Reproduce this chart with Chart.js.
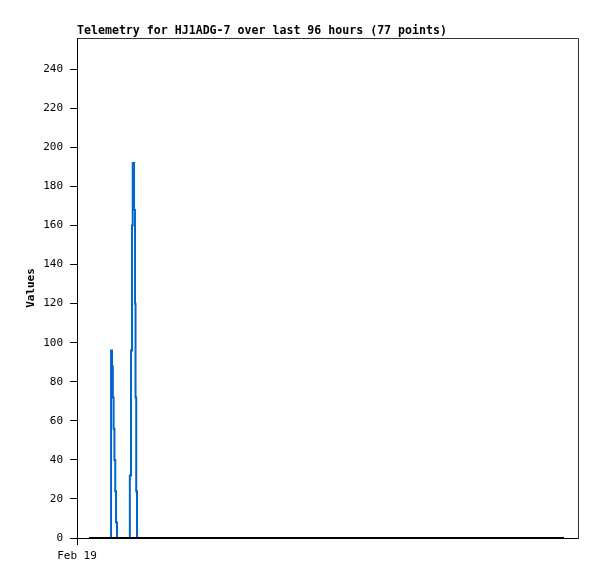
<!DOCTYPE html>
<html>
<head>
<meta charset="utf-8">
<script src="https://cdn.jsdelivr.net/npm/chart.js@4.4.1/dist/chart.umd.min.js"></script>
<style>
  html, body { margin: 0; padding: 0; background: #fff; }
</style>
</head>
<body>
<canvas id="telemetryChart" width="597" height="579"></canvas>
<script>
const chartTitle = "Telemetry for HJ1ADG-7 over last 96 hours (77 points)";
const axisTitle = "Values";
const startLabel = "Feb 19";

// hours since the start of the 96 hour window
const spikeHours = [0, 4.40, 4.45, 4.65, 4.81, 4.97, 5.13, 5.30, 5.46, 5.66, 8.19, 8.25, 8.49, 8.69, 8.83, 9.10, 9.30, 9.40, 9.54, 9.70, 96];
const spikeValues = [0, 0, 96, 88, 72, 56, 40, 24, 8, 0, 0, 32, 96, 160, 192, 168, 120, 72, 24, 0, 0];
const baseHours = [0, 96];
const baseValues = [0, 0];

const xMin = -2.43;
const xMax = 98.83;
const yMax = 256;
const yStep = 20;

const ctx = document.getElementById("telemetryChart").getContext("2d");
const FAMILY = "'DejaVu Sans Mono', monospace";

const toPoints = (xs, ys) => xs.map((x, i) => ({ x: x, y: ys[i] }));

const frame = {
  id: "frame",
  beforeDatasetsDraw(chart) {
    const c = chart.ctx;
    const a = chart.chartArea;
    c.save();
    c.strokeStyle = "#333";
    c.lineWidth = 1;
    c.beginPath();
    c.moveTo(Math.round(a.left) + 0.5, Math.round(a.top) + 0.5);
    c.lineTo(Math.round(a.right) + 0.5, Math.round(a.top) + 0.5);
    c.lineTo(Math.round(a.right) + 0.5, Math.round(a.bottom) + 0.5);
    c.stroke();
    c.restore();
  },
  afterDraw(chart) {
    const c = chart.ctx;
    const a = chart.chartArea;
    c.save();
    c.fillStyle = "#000";
    c.font = "bold 11.6px " + FAMILY;
    c.textBaseline = "alphabetic";
    c.textAlign = "left";
    c.fillText(chartTitle, a.left, a.top - 4);
    c.restore();
  },
};

new Chart(ctx, {
  type: "line",
  data: {
    datasets: [
      {
        label: "base",
        data: toPoints(baseHours, baseValues),
        borderColor: "#000",
        borderWidth: 2,
        pointRadius: 0,
      },
      {
        label: "telemetry",
        data: toPoints(spikeHours, spikeValues),
        borderColor: "#0066cc",
        borderWidth: 2,
        borderJoinStyle: "miter",
        stepped: "before",
        pointRadius: 0,
      },
    ],
  },
  options: {
    responsive: false,
    animation: false,
    devicePixelRatio: 1,
    layout: { padding: { top: 38, right: 19, left: 0, bottom: 0 } },
    plugins: {
      legend: { display: false },
      tooltip: { enabled: false },
    },
    scales: {
      x: {
        type: "linear",
        min: xMin,
        max: xMax,
        afterBuildTicks: (s) => { s.ticks = [{ value: xMin }]; },
        afterFit: (s) => { s.height = 41; },
        ticks: {
          callback: () => startLabel,
          font: { family: FAMILY, size: 11 },
          color: "#000",
          padding: 5,
          maxRotation: 0,
          autoSkip: false,
        },
        grid: { drawOnChartArea: false, tickLength: 7, color: "#000" },
        border: { color: "#000" },
      },
      y: {
        min: 0,
        max: yMax,
        afterFit: (s) => { s.width = 77; },
        ticks: {
          stepSize: yStep,
          includeBounds: false,
          font: { family: FAMILY, size: 11 },
          color: "#000",
          padding: 7,
        },
        grid: { drawOnChartArea: false, tickLength: 7, color: "#000" },
        border: { color: "#000" },
        title: {
          display: true,
          text: axisTitle,
          font: { family: FAMILY, size: 11, weight: "bold" },
          color: "#000",
          padding: { top: 25, bottom: 0 },
        },
      },
    },
  },
  plugins: [frame],
});
</script>
</body>
</html>
